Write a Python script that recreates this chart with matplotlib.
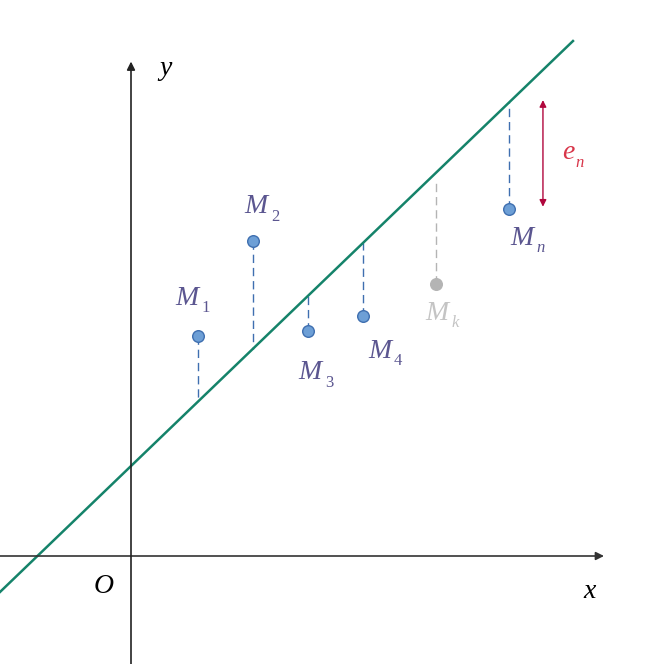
import numpy as np
import matplotlib.pyplot as plt

# puntos (unidades: 1 = 55 px)
nombres = ['M', 'M', 'M', 'M', 'M', 'M']
subindices = ['1', '2', '3', '4', 'k', 'n']
xs = [1.218, 2.218, 3.218, 4.218, 5.545, 6.873]
ys = [4.000, 5.727, 4.091, 4.364, 4.945, 6.309]
gris = [False, False, False, False, True, False]

# recta de regresion
pendiente = 0.9616
ordenada = 1.636

# posicion de etiquetas relativa al punto
dx_etq = [-0.2, 0.06, 0.04, 0.3, 0.01, 0.23]
dy_etq = [0.69, 0.62, -0.76, -0.64, -0.53, -0.53]

col_punto = '#6d9fd6'
col_borde = '#3f6fb0'
col_texto = '#5b5690'
col_gris = '#b4b4b4'
col_recta = '#15836a'

fig = plt.figure(figsize=(6.46, 6.64), dpi=100)
ax = fig.add_axes([0, 0, 1, 1])
ax.set_xlim(-131 / 55, 515 / 55)
ax.set_ylim(-108 / 55, 556 / 55)
ax.axis('off')

fuente = 'Liberation Serif'

# ejes
ax.annotate('', xy=(8.6, 0), xytext=(-2.4, 0),
            arrowprops=dict(arrowstyle='-|>', color='#333333', lw=1.2,
                            mutation_scale=12, shrinkA=0, shrinkB=0))
ax.annotate('', xy=(0, 8.99), xytext=(0, -2.0),
            arrowprops=dict(arrowstyle='-|>', color='#222222', lw=1.2,
                            mutation_scale=12, shrinkA=0, shrinkB=0))
ax.text(0.62, 8.87, 'y', fontsize=20, family=fuente, style='italic', ha='center', va='center')
ax.text(8.34, -0.65, 'x', fontsize=20, family=fuente, style='italic', ha='center', va='center')
ax.text(-0.5, -0.56, 'O', fontsize=20, family=fuente, style='italic', ha='center', va='center')

# recta
xr = np.array([-2.4, 8.036])
ax.plot(xr, pendiente * xr + ordenada, color=col_recta, lw=1.8, zorder=2)

# residuos y puntos
for i in range(len(xs)):
    yl = pendiente * xs[i] + ordenada
    c_lin = col_gris if gris[i] else col_borde
    c_fill = col_gris if gris[i] else col_punto
    c_txt = '#c4c4c4' if gris[i] else col_texto
    ytope = yl - 0.18 if yl > ys[i] and gris[i] else yl
    ax.plot([xs[i], xs[i]], [ys[i], ytope], color=c_lin, lw=1, ls=(0, (6, 3.5)), zorder=1)
    ax.scatter(xs[i], ys[i], s=70, color=c_fill, edgecolor=c_lin if not gris[i] else col_gris,
               linewidth=1, zorder=3)
    tx = xs[i] + dx_etq[i]
    ty = ys[i] + dy_etq[i]
    ax.text(tx, ty, nombres[i], fontsize=20, family=fuente, style='italic',
            color=c_txt, ha='center', va='center')
    estilo = 'normal' if subindices[i].isdigit() else 'italic'
    ax.text(tx + 0.34, ty - 0.18, subindices[i], fontsize=12, family=fuente, style=estilo,
            color=c_txt, ha='center', va='center')

# flecha e_n
ax.annotate('', xy=(7.49, 8.29), xytext=(7.49, 6.35),
            arrowprops=dict(arrowstyle='<|-|>', color='#b0073d', lw=1.0,
                            mutation_scale=10, shrinkA=0, shrinkB=0))
ax.text(7.95, 7.33, 'e', fontsize=20, family=fuente, style='italic', color='#d8364a',
        ha='center', va='center')
ax.text(8.16, 7.14, 'n', fontsize=12, family=fuente, style='italic', color='#d8364a',
        ha='center', va='center')

fig.savefig('out.png', dpi=100)
